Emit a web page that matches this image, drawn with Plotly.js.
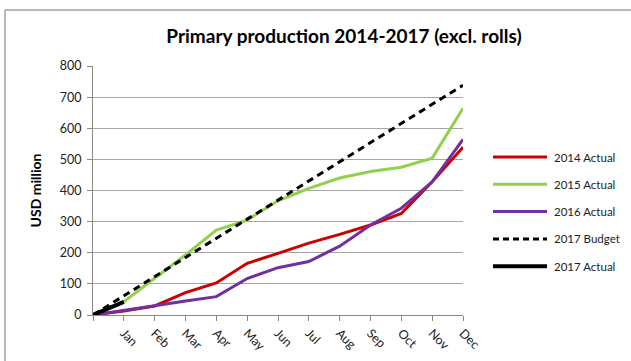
<!DOCTYPE html>
<html>
<head>
<meta charset="utf-8">
<script src="https://cdn.plot.ly/plotly-3.0.1.min.js"></script>
<style>
  html, body { margin: 0; padding: 0; background: #ffffff; }
  #chart { width: 631px; height: 361px; }
</style>
</head>
<body>
<div id="chart"></div>
<script>
// Month positions: 0 is the start of the year, 1..12 are month ends
const monthPos = [0, 1, 2, 3, 4, 5, 6, 7, 8, 9, 10, 11, 12];
const monthLabels = ['', 'Jan', 'Feb', 'Mar', 'Apr', 'May', 'Jun', 'Jul', 'Aug', 'Sep', 'Oct', 'Nov', 'Dec'];

// Cumulative primary production, USD million
const actual2014 = [0, 13, 29, 72, 103, 166, 198, 231, 259, 289, 326, 428, 539];
const actual2015 = [0, 43, 118, 193, 273, 305, 367, 407, 440, 461, 475, 504, 664];
const actual2016 = [0, 16, 30, 45, 59, 117, 152, 172, 221, 289, 343, 428, 564];
const budget2017 = [0, 62, 123, 185, 246, 308, 369, 431, 492, 554, 615, 677, 738];
const actual2017 = [0, 42];

const seriesNames = ['2014 Actual', '2015 Actual', '2016 Actual', '2017 Budget', '2017 Actual'];

const FONT = 'Lato, Calibri, Carlito, "Liberation Sans", sans-serif';

const lineStyles = [
  { color: '#cc0000', width: 3 },
  { color: '#92d050', width: 3 },
  { color: '#7030a0', width: 3 },
  { color: '#000000', width: 3, dash: '7px,5px' },
  { color: '#000000', width: 4 }
];
const seriesData = [actual2014, actual2015, actual2016, budget2017, actual2017];

const traces = seriesData.map((vals, i) => ({
  x: monthPos.slice(0, vals.length),
  y: vals,
  name: seriesNames[i],
  mode: 'lines',
  line: lineStyles[i],
  showlegend: false
}));

// Plot area in page pixels, used to place the side legend
const plot = { l: 93, r: 463, t: 66, b: 315 };
const px = v => (v - plot.l) / (plot.r - plot.l);
const py = v => (plot.b - v) / (plot.b - plot.t);

const legendShapes = [];
const legendText = [];
seriesNames.forEach((name, i) => {
  const yy = 157 + 27.3 * i;
  legendShapes.push({
    type: 'line', xref: 'paper', yref: 'paper',
    x0: px(493), x1: px(547), y0: py(yy), y1: py(yy),
    line: Object.assign({}, lineStyles[i], { dash: lineStyles[i].dash ? '6px,4px' : 'solid' })
  });
  legendText.push({
    xref: 'paper', yref: 'paper', x: px(552), y: py(yy),
    xanchor: 'left', yanchor: 'middle', showarrow: false,
    text: name, font: { family: FONT, size: 11.5, color: '#222222' }
  });
});

const layout = {
  width: 631,
  height: 361,
  margin: { l: 93, r: 168, t: 66, b: 46, pad: 0 },
  paper_bgcolor: '#ffffff',
  plot_bgcolor: '#ffffff',
  font: { family: FONT, size: 12, color: '#222222' },
  title: {
    text: '<b>Primary production 2014-2017 (excl. rolls)</b>',
    font: { family: FONT, size: 19, color: '#000000' },
    x: 344 / 631, xref: 'container', xanchor: 'center',
    y: 1 - 36 / 361, yref: 'container', yanchor: 'middle'
  },
  xaxis: {
    range: [0, 12],
    tickmode: 'array',
    tickvals: monthPos,
    ticktext: monthLabels,
    tickangle: 45,
    ticks: 'outside',
    ticklen: 5,
    tickcolor: '#888888',
    tickwidth: 1,
    showgrid: false,
    zeroline: false,
    showline: true,
    linecolor: '#888888',
    linewidth: 1,
    tickfont: { family: FONT, size: 12.5, color: '#222222' },
    fixedrange: true
  },
  yaxis: {
    range: [0, 800],
    dtick: 100,
    ticks: 'outside',
    ticklen: 5,
    tickcolor: '#888888',
    ticklabelstandoff: 3,
    showgrid: true,
    gridcolor: '#a6a6a6',
    gridwidth: 1,
    zeroline: false,
    showline: true,
    linecolor: '#888888',
    linewidth: 1,
    tickfont: { family: FONT, size: 12.5, color: '#222222' },
    title: {
      text: '<b>USD million</b>',
      font: { family: FONT, size: 14, color: '#000000' },
      standoff: 14
    },
    fixedrange: true
  },
  showlegend: false,
  annotations: legendText,
  shapes: [
    // chart frame (top and left edges)
    { type: 'line', xref: 'paper', yref: 'paper',
      x0: px(5), x1: px(640), y0: py(10), y1: py(10),
      line: { color: '#a0a0a0', width: 1.5 } },
    { type: 'line', xref: 'paper', yref: 'paper',
      x0: px(5), x1: px(5), y0: py(10), y1: py(370),
      line: { color: '#a0a0a0', width: 1.5 } }
  ].concat(legendShapes)
};

Plotly.newPlot('chart', traces, layout, { displayModeBar: false, staticPlot: true });
</script>
</body>
</html>
